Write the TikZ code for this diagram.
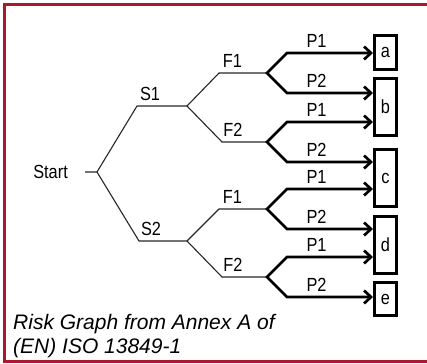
\documentclass[tikz,border=0pt]{standalone}
\usepackage{fontspec}
\setmainfont{Liberation Sans}
\newfontfamily\narrowfont[FakeStretch=0.86]{Liberation Sans}
\usetikzlibrary{arrows.meta,calc}
\definecolor{framered}{RGB}{166,25,46}

\begin{document}
\begin{tikzpicture}[x=1pt,y=-1pt,
    thinline/.style={line width=1.1pt,draw=black!85,line join=miter},
    thickline/.style={line width=2.7pt,line join=miter,{Straight Barb[length=7pt,width=13pt]}-{Straight Barb[length=7pt,width=13pt]}},
    lab/.style={font=\narrowfont\fontsize{19}{19}\selectfont,inner sep=0pt},
    outbox/.style={draw,line width=2.6pt,minimum width=22.4pt,inner sep=0pt,font=\narrowfont\fontsize{19}{19}\selectfont}]
    \useasboundingbox (0,0) rectangle (427,363);
    \draw[framered,line width=3.3pt] (4.6,4.6) rectangle (440,361.6);
    % branch points
    \coordinate (st0) at (85,172);  \coordinate (st) at (97,172);
    \coordinate (s1a) at (137,106); \coordinate (s1) at (187,106);
    \coordinate (s2a) at (139,241); \coordinate (s2) at (187,241);
    \coordinate (f1a) at (219,73);  \coordinate (f1) at (267,73);
    \coordinate (f2a) at (222,142); \coordinate (f2) at (267,142);
    \coordinate (f3a) at (219,209); \coordinate (f3) at (267,209);
    \coordinate (f4a) at (222,277); \coordinate (f4) at (267,277);
    % result boxes
    \node[outbox,minimum height=34.4pt] (a) at (385.5,52.5) {a};
    \node[outbox,minimum height=57.4pt] (b) at (385.5,107) {b};
    \node[outbox,minimum height=57.4pt] (c) at (385.5,178) {c};
    \node[outbox,minimum height=57.4pt] (d) at (385.5,245) {d};
    \node[outbox,minimum height=33.4pt] (e) at (385.5,299) {e};
    % tree
    \node[lab,anchor=east] (start) at (68,172) {Start};
    \draw[thinline] (st0) -- (st) -- (s1a) -- (s1) -- (f1a) -- (f1);
    \draw[thinline] (st) -- (s2a) -- (s2) -- (f3a) -- (f3);
    \draw[thinline] (s1) -- (f2a) -- (f2);
    \draw[thinline] (s2) -- (f4a) -- (f4);
    \node[lab,anchor=base] (s1l) at (150,100.5) {S1};
    \node[lab,anchor=base] (s2l) at (151,235.5) {S2};
    \foreach \f/\up/\dn in {f1/a/b,f2/b/c,f3/c/d,f4/d/e}{
        \path (\f) ++(20,-20) coordinate (\f-p1) ++(0,40) coordinate (\f-p2);
        \draw[thickline] (\f-p1 -| \up.west) -- (\f-p1) -- (\f) -- (\f-p2) -- (\f-p2 -| \dn.west);
        \node[lab,anchor=base] (\f-l1) at ($(\f-p1)+(29.5,-5.5)$) {P1};
        \node[lab,anchor=base] (\f-l2) at ($(\f-p2)+(29.5,-5.5)$) {P2};
    }
    \node[lab,anchor=base] (f1l) at (232.5,67.5) {F1};
    \node[lab,anchor=base] (f2l) at (233,136.5) {F2};
    \node[lab,anchor=base] (f3l) at (232.5,203.5) {F1};
    \node[lab,anchor=base] (f4l) at (233,271.5) {F2};
    % caption
    \node[anchor=base west,inner sep=0pt,font=\itshape\fontsize{21}{24}\selectfont] (cap1) at (13,329) {Risk Graph from Annex A of};
    \node[anchor=base west,inner sep=0pt,font=\itshape\fontsize{21}{24}\selectfont] (cap2) at (13,353) {(EN) ISO 13849-1};
\end{tikzpicture}
\end{document}
